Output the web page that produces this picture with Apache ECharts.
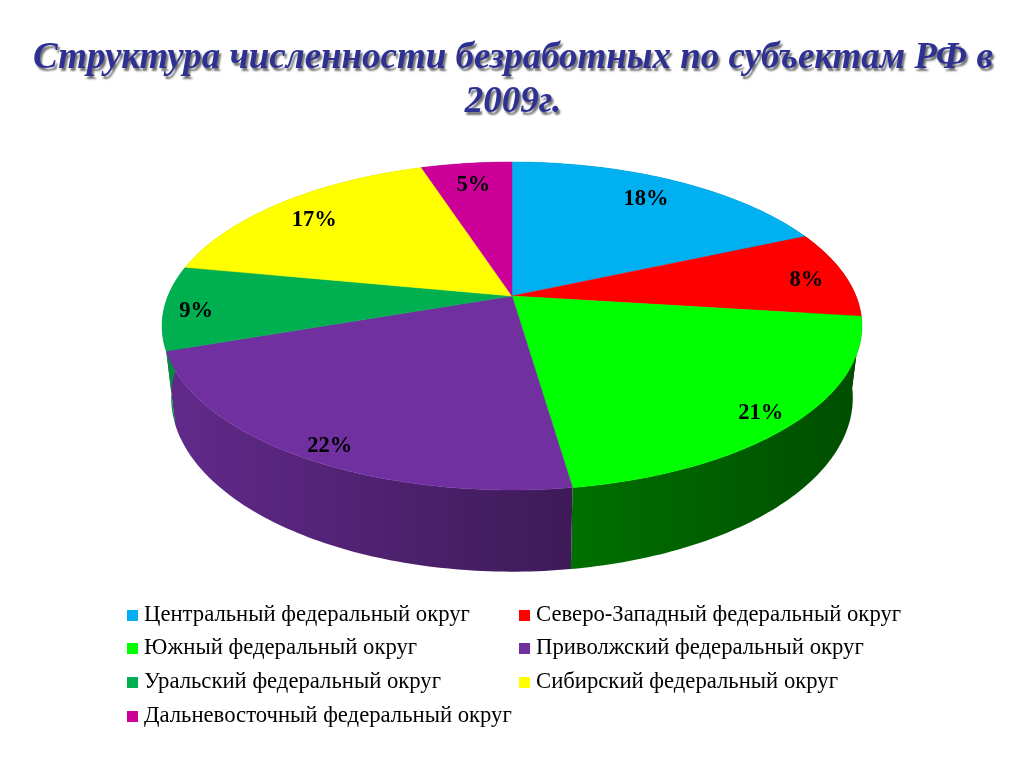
<!DOCTYPE html>
<html><head><meta charset="utf-8">
<script src="https://cdn.jsdelivr.net/npm/echarts@6/dist/echarts.min.js"></script>
<style>html,body{margin:0;padding:0;background:#fff}#c{width:1024px;height:768px}</style>
</head><body><div id="c"></div>
<script>
const titleText = 'Структура численности безработных по субъектам РФ в\n2009г.';
const regions = ['Центральный федеральный округ','Северо-Западный федеральный округ','Южный федеральный округ','Приволжский федеральный округ','Уральский федеральный округ','Сибирский федеральный округ','Дальневосточный федеральный округ'];
const printedPercents = [18, 8, 21, 22, 9, 17, 5];
const sliceShares = [18.4, 8.6, 20.7, 22.0, 8.3, 17.0, 5.0];
const colors = ['#00B0F0','#FF0000','#00FF00','#7030A0','#00B050','#FFFF00','#CC0099'];

// styling / layout, kept apart from the data
const wallShades = [[.5,.5],[.3,.3],[.3,.44],[.55,.87],[.8,.8],[.6,.6],[.5,.5]];
const labelReach = [.8,.9,.9,.9,.935,.84,.8];
const labelNudge = [[0,-2],[-5,4],[-1,4],[5,8],[9,4],[-1,4],[-1,-1]];
const legendSpots = [[127,604],[519,604],[127,637],[519,637],[127,671],[519,671],[127,705]];
const K = .183, RX = 344, RY = 158.5, CX = 512, CY = 296;
const WALL_SCALE = .974, WALL_SCALE_Y = 1.06, WALL_CY = 366;

function project(theta, f, scaleX, scaleY, cy) {
  const x = Math.sin(theta) * f, y = -Math.cos(theta) * f, w = 1 - K * y;
  return [CX + scaleX * RX * x / w, cy + scaleY * RY * y / w];
}
function shade(hex, s) {
  const n = parseInt(hex.slice(1), 16);
  return 'rgb(' + [(n >> 16) & 255, (n >> 8) & 255, n & 255].map(v => Math.round(v * s)).join(',') + ')';
}
const total = sliceShares.reduce((a, b) => a + b, 0);
let running = 0;
const series = regions.map((name, i) => {
  const start = running;
  running += sliceShares[i];
  return {
    type: 'custom', name, coordinateSystem: 'none',
    itemStyle: { color: colors[i] },
    data: [[sliceShares[i], start, printedPercents[i]]],
    renderItem(params, api) {
      const a0 = api.value(1) / total * 2 * Math.PI;
      const a1 = (api.value(1) + api.value(0)) / total * 2 * Math.PI;
      const n = Math.max(6, Math.ceil((a1 - a0) * 60));
      const rim = [], base = [];
      for (let j = 0; j <= n; j++) {
        const t = a0 + (a1 - a0) * j / n;
        rim.push(project(t, 1, 1, 1, CY));
        base.push(project(t, 1, WALL_SCALE, WALL_SCALE_Y, WALL_CY));
      }
      const wallPts = rim.concat(base.slice().reverse());
      // visible wall section determines the gradient span
      const vis0 = project(Math.max(a0, 1.75), 1, 1, 1, CY)[0];
      const vis1 = project(Math.min(a1, 4.53), 1, 1, 1, CY)[0];
      const wallFill = new echarts.graphic.LinearGradient(vis0, 0, vis1, 0, [
        { offset: 0, color: shade(colors[i], wallShades[i][0]) },
        { offset: 1, color: shade(colors[i], wallShades[i][1]) }
      ], true);
      const mid = (a0 + a1) / 2;
      const lp = project(mid, labelReach[i], 1, 1, CY);
      return {
        type: 'group',
        children: [
          { type: 'polygon', z2: 1, shape: { points: wallPts }, style: { fill: wallFill } },
          { type: 'polygon', z2: 2, shape: { points: [[CX, CY]].concat(rim) },
            style: { fill: colors[i], stroke: colors[i], lineWidth: .5 } },
          { type: 'text', z2: 3, x: lp[0] + labelNudge[i][0], y: lp[1] + labelNudge[i][1],
            style: { text: api.value(2) + '%', fill: '#000', align: 'center', verticalAlign: 'middle',
              font: 'bold 22.5px "Liberation Serif"' } }
        ]
      };
    }
  };
});
const option = {
  animation: false,
  backgroundColor: '#fff',
  title: {
    text: titleText, left: 508, top: 31, textAlign: 'center',
    textStyle: { fontFamily: 'Liberation Serif', fontStyle: 'italic', fontWeight: 'bold', fontSize: 36.95,
      lineHeight: 44, color: '#2E3192', textShadowColor: 'rgba(70,70,70,.75)', textShadowBlur: 2,
      textShadowOffsetX: 2, textShadowOffsetY: 3 }
  },
  legend: regions.map((name, i) => ({
    data: [name], left: legendSpots[i][0], top: legendSpots[i][1], padding: 0,
    icon: 'rect', itemWidth: 11, itemHeight: 11, itemGap: 0, selectedMode: false,
    textStyle: { fontFamily: 'Liberation Serif', fontSize: 22.7, color: '#000', padding: [0, 0, 0, 1] }
  })),
  series
};
echarts.init(document.getElementById('c'), null, { renderer: 'canvas' }).setOption(option);
</script></body></html>
